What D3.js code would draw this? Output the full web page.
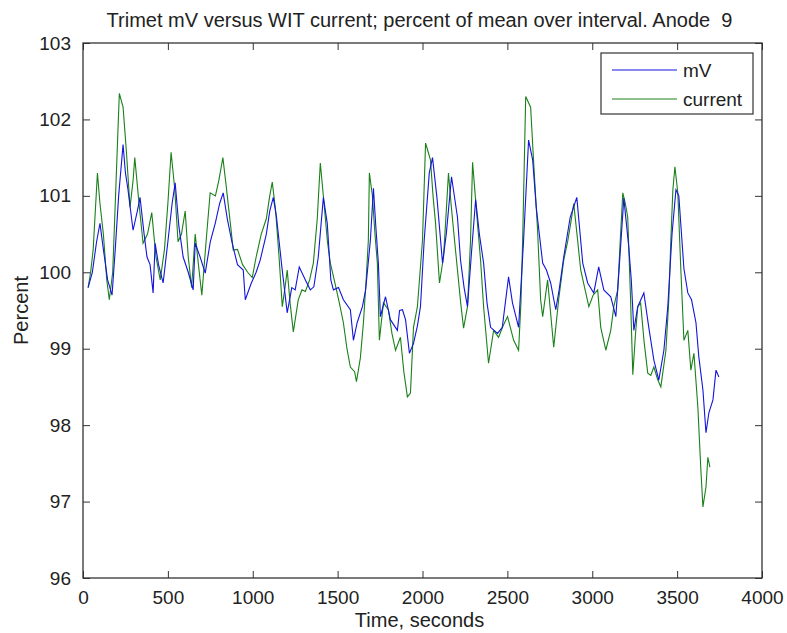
<!DOCTYPE html>
<html>
<head>
<meta charset="utf-8">
<script src="https://cdn.jsdelivr.net/npm/d3@7"></script>
<style>
  body { margin: 0; background: #fff; }
  text { font-family: "Liberation Sans", Arial, sans-serif; fill: #222; }
</style>
</head>
<body>
<div id="chart"></div>
<script>
// Series (time in seconds, percent of mean)
const currentTime = [30,45,60,85,100,120,140,155,175,195,214,236,255,277,295,305,330,354,380,405,430,455,480,500,519,540,560,580,602,620,640,661,680,700,725,749,780,800,824,845,870,885,910,940,970,997,1020,1050,1080,1100,1115,1135,1155,1174,1190,1203,1220,1239,1268,1290,1310,1335,1357,1380,1398,1420,1440,1457,1480,1510,1534,1555,1575,1600,1611,1634,1652,1668,1681,1687,1705,1720,1734,1746,1760,1770,1799,1820,1841,1870,1890,1911,1929,1947,1970,2000,2018,2030,2047,2062,2077,2100,2124,2140,2153,2168,2183,2206,2225,2242,2265,2283,2295,2318,2342,2360,2389,2419,2448,2475,2501,2537,2566,2580,2590,2608,2637,2655,2678,2696,2708,2737,2773,2802,2832,2855,2873,2891,2910,2932,2955,2980,3005,3032,3050,3080,3109,3127,3150,3165,3180,3195,3209,3225,3239,3255,3268,3285,3305,3327,3345,3363,3385,3404,3434,3451,3463,3475,3487,3504,3522,3540,3563,3581,3599,3622,3640,3652,3670,3681,3693];
const currentPct = [99.8,100.0,100.3,101.3,100.9,100.5,99.9,99.64,100.0,101.2,102.34,102.16,101.6,100.85,101.2,101.5,100.9,100.38,100.5,100.78,100.2,99.9,100.3,100.9,101.57,101.1,100.4,100.5,100.8,100.2,99.8,100.5,100.1,99.7,100.4,101.04,101.0,101.2,101.5,101.1,100.6,100.29,100.3,100.1,100.0,99.93,100.2,100.5,100.7,101.0,101.18,100.8,100.2,99.55,99.8,100.03,99.6,99.22,99.64,99.77,99.75,99.9,100.12,100.7,101.43,100.9,100.4,100.12,99.9,99.6,99.34,99.0,98.76,98.7,98.57,98.88,99.34,99.9,100.42,101.3,101.0,100.5,100.12,99.11,99.4,99.6,99.51,99.2,98.98,99.15,98.7,98.37,98.42,99.28,99.55,100.42,101.69,101.6,101.47,101.0,100.64,99.86,100.2,100.8,101.3,100.9,100.55,100.03,99.6,99.27,99.55,100.42,101.44,100.8,100.16,99.55,98.81,99.24,99.15,99.3,99.42,99.11,98.98,99.6,100.42,102.3,102.16,101.43,100.55,99.64,99.42,99.9,99.02,99.64,100.16,100.4,100.64,100.9,100.5,100.03,99.8,99.55,99.7,99.77,99.28,98.98,99.24,99.55,99.77,100.42,101.04,100.9,100.72,99.7,98.66,99.2,99.55,99.6,99.1,98.68,98.65,98.76,98.6,98.5,98.98,99.64,100.42,101.08,101.38,101.04,100.03,99.11,99.24,98.72,98.94,98.24,97.41,96.93,97.19,97.58,97.45];

const mvTime = [30,55,80,100,120,145,171,190,210,236,250,265,295,320,336,360,377,395,413,425,445,472,500,525,543,565,590,620,649,661,690,720,750,779,805,826,850,879,910,944,956,990,1020,1044,1080,1100,1121,1140,1170,1203,1230,1250,1274,1310,1339,1360,1386,1416,1439,1460,1475,1505,1534,1575,1593,1615,1646,1665,1693,1711,1725,1740,1752,1782,1811,1852,1865,1882,1900,1923,1947,1970,1988,2010,2040,2059,2085,2118,2140,2171,2206,2224,2245,2265,2290,2313,2335,2360,2380,2401,2442,2470,2507,2530,2566,2595,2625,2649,2670,2708,2730,2755,2785,2805,2832,2870,2909,2944,2973,3009,3038,3068,3109,3139,3160,3186,3215,3230,3245,3268,3304,3333,3363,3392,3422,3445,3470,3493,3510,3540,3563,3585,3611,3628,3652,3670,3687,3711,3729,3746];
const mvPct = [99.8,100.0,100.4,100.64,100.3,99.9,99.7,100.3,101.0,101.67,101.3,101.08,100.55,100.8,100.98,100.5,100.2,100.1,99.73,100.38,100.1,99.86,100.4,100.9,101.17,100.6,100.2,100.0,99.77,100.38,100.2,99.99,100.4,100.64,100.9,101.04,100.7,100.38,100.1,100.03,99.64,99.85,100.0,100.16,100.5,100.8,100.98,100.72,100.1,99.47,99.8,99.77,100.07,99.9,99.77,99.81,100.2,100.98,100.64,99.9,99.77,99.8,99.64,99.51,99.11,99.34,99.55,99.77,100.42,101.1,100.6,100.12,99.42,99.68,99.38,99.24,99.5,99.51,99.38,98.94,99.07,99.3,99.55,100.42,101.3,101.5,100.98,100.12,100.5,101.25,100.72,100.16,99.8,99.55,100.3,100.95,100.5,100.12,99.6,99.28,99.2,99.28,99.94,99.6,99.28,100.4,101.73,101.47,100.85,100.12,100.03,99.86,99.51,99.77,100.2,100.72,100.98,100.12,99.86,99.73,100.07,99.77,99.68,99.42,100.1,100.97,100.33,99.9,99.24,99.55,99.73,99.28,98.85,98.59,98.98,99.55,100.5,101.08,101.0,100.05,99.73,99.64,99.34,98.89,98.46,97.9,98.16,98.33,98.72,98.63];

const xTicks = [0,500,1000,1500,2000,2500,3000,3500,4000];
const yTicks = [96,97,98,99,100,101,102,103];
const seriesNames = ["mV","current"];
const seriesColors = ["#1414dc","#1a801a"];

const W = 787, H = 633;
const margin = {top: 43, right: 25, bottom: 55, left: 83};
const width = W - margin.left - margin.right;
const height = H - margin.top - margin.bottom;

const svg = d3.select("#chart").append("svg")
    .attr("width", W)
    .attr("height", H);

const g = svg.append("g")
    .attr("transform", `translate(${margin.left},${margin.top})`);

const x = d3.scaleLinear().domain([0, 4000]).range([0, width]);
const y = d3.scaleLinear().domain([96, 103]).range([height, 0]);

// series, clipped to the box
g.append("clipPath").attr("id", "clip")
  .append("rect").attr("width", width).attr("height", height);

const line = d3.line()
    .x(d => x(d[0]))
    .y(d => y(d[1]));

const series = [
  d3.zip(mvTime, mvPct),
  d3.zip(currentTime, currentPct)
];

// current drawn first, mV on top
[1, 0].forEach(i => {
  g.append("path")
    .datum(series[i])
    .attr("clip-path", "url(#clip)")
    .attr("fill", "none")
    .attr("stroke", seriesColors[i])
    .attr("stroke-width", 1.1)
    .attr("d", line);
});

// axes: ticks point inward, on all four sides (matlab box)
const tickLen = 7;
const axisStyle = sel => {
  sel.select(".domain").remove();
  sel.selectAll("line").attr("stroke", "#333");
};

g.append("g")
  .attr("transform", `translate(0,${height})`)
  .call(d3.axisBottom(x).tickValues(xTicks).tickFormat(d3.format("d"))
    .tickSizeInner(-tickLen).tickSizeOuter(0).tickPadding(tickLen + 6))
  .call(axisStyle)
  .selectAll("text").style("font-size", "19px").attr("fill", "#222");

g.append("g")
  .call(d3.axisTop(x).tickValues(xTicks).tickSizeInner(-tickLen).tickSizeOuter(0).tickFormat(""))
  .call(axisStyle);

g.append("g")
  .call(d3.axisLeft(y).tickValues(yTicks).tickFormat(d3.format("d"))
    .tickSizeInner(-tickLen).tickSizeOuter(0).tickPadding(tickLen + 5))
  .call(axisStyle)
  .selectAll("text").style("font-size", "19px").attr("fill", "#222");

g.append("g")
  .attr("transform", `translate(${width},0)`)
  .call(d3.axisRight(y).tickValues(yTicks).tickSizeInner(-tickLen).tickSizeOuter(0).tickFormat(""))
  .call(axisStyle);

g.append("rect")
  .attr("width", width)
  .attr("height", height)
  .attr("fill", "none")
  .attr("stroke", "#333")
  .attr("stroke-width", 1.3);

// titles
svg.append("text")
  .attr("x", margin.left + width / 2 - 3)
  .attr("y", 27)
  .attr("text-anchor", "middle")
  .style("font-size", "20px")
  .style("white-space", "pre")
  .text("Trimet mV versus WIT current; percent of mean over interval. Anode  9");

svg.append("text")
  .attr("x", margin.left + width / 2 - 3)
  .attr("y", 627)
  .attr("text-anchor", "middle")
  .style("font-size", "20px")
  .text("Time, seconds");

svg.append("text")
  .attr("transform", `translate(28,${margin.top + height / 2}) rotate(-90)`)
  .attr("text-anchor", "middle")
  .style("font-size", "20px")
  .text("Percent");

// legend
const legend = g.append("g").attr("transform", `translate(${width - 161},10)`);
legend.append("rect")
  .attr("width", 152)
  .attr("height", 61)
  .attr("fill", "#fff")
  .attr("stroke", "#333")
  .attr("stroke-width", 1.2);

seriesNames.forEach((name, i) => {
  const row = legend.append("g").attr("transform", `translate(0,${17 + i * 29})`);
  row.append("line")
    .attr("x1", 11).attr("x2", 76)
    .attr("stroke", seriesColors[i])
    .attr("stroke-width", 1.2);
  row.append("text")
    .attr("x", 82)
    .attr("dy", "0.35em")
    .style("font-size", "19px")
    .text(name);
});
</script>
</body>
</html>
